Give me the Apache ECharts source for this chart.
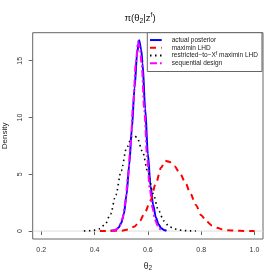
<!DOCTYPE html>
<html><head><meta charset="utf-8">
<script src="https://cdn.jsdelivr.net/npm/echarts@6/dist/echarts.min.js"></script>
<style>html,body{margin:0;padding:0;background:#fff}#c{width:280px;height:280px}</style>
</head><body><div id="c"></div>
<script>
const xTicks = [0.2, 0.4, 0.6, 0.8, 1.0];
const yTicks = [0, 5, 10, 15];
const seriesNames = ['actual posterior', 'maximin LHD', 'restricted\u2212to\u2212X^f maximin LHD', 'sequential design'];

const actualX = [0.46,0.47,0.48,0.49,0.50,0.51,0.52,0.53,0.54,0.55,0.56,0.567,0.575,0.58,0.59,0.60,0.61,0.62,0.63,0.64,0.65,0.66,0.67];
const actualY = [0.02,0.05,0.12,0.3,0.7,1.5,3.2,5.8,9.0,12.6,15.7,16.8,16.0,14.8,10.8,6.8,4.0,2.3,1.2,0.6,0.25,0.1,0.03];

const maximinX = [0.42,0.46,0.50,0.53,0.55,0.57,0.59,0.61,0.63,0.65,0.665,0.68,0.70,0.72,0.74,0.76,0.78,0.80,0.82,0.84,0.86,0.88,0.90,0.93,0.96,1.0];
const maximinY = [0.0,0.01,0.03,0.15,0.4,0.9,1.7,2.7,4.2,5.6,6.2,6.1,5.7,5.1,4.3,3.3,2.3,1.4,0.85,0.5,0.28,0.14,0.07,0.03,0.01,0.0];

const restrictedX = [0.36,0.38,0.40,0.42,0.44,0.46,0.48,0.50,0.52,0.54,0.55,0.56,0.58,0.60,0.62,0.64,0.66,0.68,0.70,0.72,0.74,0.76,0.78];
const restrictedY = [0.01,0.03,0.08,0.2,0.6,1.5,3.2,5.3,7.3,8.3,8.4,8.2,7.0,5.2,3.3,1.8,0.9,0.4,0.18,0.08,0.04,0.02,0.01];

const sequentialX = [0.465,0.475,0.485,0.495,0.505,0.515,0.525,0.535,0.545,0.555,0.563,0.571,0.577,0.587,0.597,0.607,0.617,0.627,0.637,0.647,0.657];
const sequentialY = [0.03,0.08,0.2,0.5,1.1,2.4,4.6,7.6,11.2,14.8,16.7,16.0,14.6,10.6,6.6,3.8,2.1,1.0,0.45,0.15,0.05];

const zip = (xs, ys) => xs.map((x, i) => [x, ys[i]]);
const FONT = '"Liberation Sans", Arial, sans-serif';

const chart = echarts.init(document.getElementById('c'), null, {renderer: 'canvas'});
const mk = (name, xs, ys, color, type, width) => ({
  name, type: 'line', data: zip(xs, ys), showSymbol: false, symbol: 'none',
  smooth: 0.3, smoothMonotone: 'x', animation: false,
  lineStyle: {color, type, width}, itemStyle: {color}
});

chart.setOption({
  animation: false,
  backgroundColor: '#fff',
  title: {
    text: '{a|\u03C0(\u03B8}{s|2}{a||z}{p|f}{a|)}',
    left: 'center', top: 7,
    textStyle: {fontWeight: 'normal', rich: {
      a: {fontFamily: FONT, fontSize: 9.5, fontWeight: 'normal', color: '#111'},
      s: {fontFamily: FONT, fontSize: 7, fontWeight: 'normal', color: '#111', verticalAlign: 'bottom', padding: [4,0,0,0]},
      p: {fontFamily: FONT, fontSize: 6.5, fontWeight: 'normal', color: '#111', verticalAlign: 'top', padding: [0,0,6,0]}
    }}
  },
  grid: {left: 32.7, right: 17, top: 32.7, bottom: 41, containLabel: false, outerBoundsMode: 'none',
    show: true, borderColor: '#666', borderWidth: 1, backgroundColor: 'transparent'},
  xAxis: {
    type: 'value', min: 0.168, max: 1.032,
    name: '{a|\u03B8}{s|2}', nameLocation: 'middle', nameGap: 22,
    nameTextStyle: {rich: {
      a: {fontFamily: FONT, fontSize: 8.5, color: '#222'},
      s: {fontFamily: FONT, fontSize: 6.5, color: '#222', verticalAlign: 'bottom', padding: [4,0,0,0]}
    }},
    axisLine: {show: false},
    splitLine: {show: false},
    axisTick: {show: true, inside: false, length: 4, customValues: xTicks, lineStyle: {color: '#666', width: 1}},
    axisLabel: {customValues: xTicks, formatter: v => v.toFixed(1), fontSize: 7, fontFamily: FONT, color: '#333', margin: 8}
  },
  yAxis: {
    type: 'value', min: -0.7, max: 17.47,
    name: 'Density', nameLocation: 'middle', nameGap: 21,
    nameTextStyle: {fontFamily: FONT, fontSize: 8, color: '#222'},
    axisLine: {show: false},
    splitLine: {show: false},
    axisTick: {show: true, inside: false, length: 4, customValues: yTicks, lineStyle: {color: '#666', width: 1}},
    axisLabel: {customValues: yTicks, rotate: 90, fontSize: 7, fontFamily: FONT, color: '#333', margin: 9, formatter: v => String(v)}
  },
  legend: {
    show: true, orient: 'vertical', left: 147.3, top: 32.7, width: 110,
    padding: [3.5, 4, 4.5, 1.7], itemGap: 0,
    itemWidth: 11.7, itemHeight: 7.7,
    backgroundColor: '#fff', borderColor: '#666', borderWidth: 1, borderRadius: 0,
    data: seriesNames,
    itemStyle: {opacity: 0},
    formatter: n => n === seriesNames[2] ? 'restricted\u2212to\u2212X{p|f} maximin LHD' : n,
    textStyle: {fontFamily: FONT, fontSize: 6.5, color: '#222', lineHeight: 7.7, padding: [0,0,0,5],
      rich: {p: {fontSize: 5, fontFamily: FONT, color: '#222', verticalAlign: 'top', padding: [0,0,3,0]}}}
  },
  series: [
    mk(seriesNames[0], actualX, actualY, '#0000FF', 'solid', 2),
    mk(seriesNames[1], maximinX, maximinY, '#FF0000', [6, 5], 2),
    mk(seriesNames[2], restrictedX, restrictedY, '#000000', [1.5, 3.5], 1.6),
    mk(seriesNames[3], sequentialX, sequentialY, '#FF00FF', [7, 3, 2, 3], 2),
    {type: 'line', name: 'zero', silent: true, symbol: 'none', data: [[0.168, 0], [1.032, 0]],
      lineStyle: {color: '#dcdcdc', width: 1}, z: 0}
  ]
});
</script></body></html>
